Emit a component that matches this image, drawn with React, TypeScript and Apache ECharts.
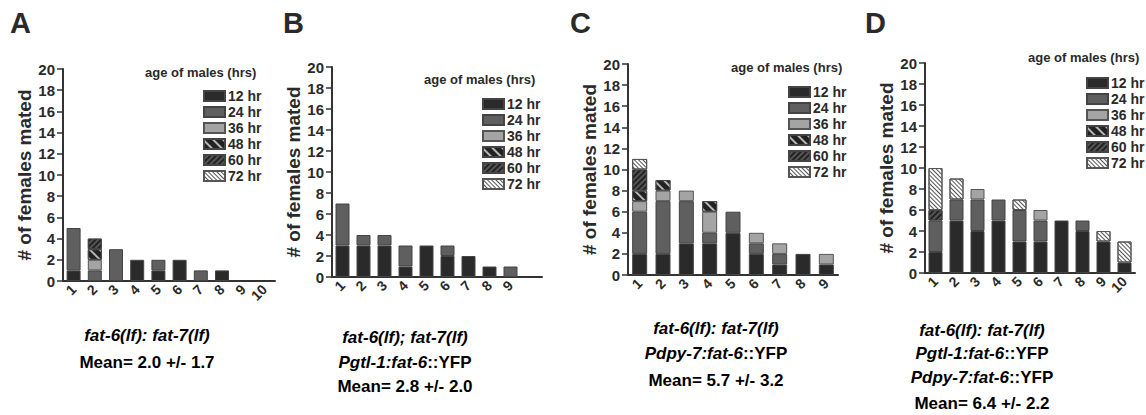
import React, { useEffect, useRef } from "react";
import * as echarts from "echarts";

const FONT = '"Liberation Sans", Arial, Helvetica, sans-serif';
const INK = "#2a2a2a";

// ---- data ----
const hourNames = ["12 hr", "24 hr", "36 hr", "48 hr", "60 hr", "72 hr"];

const catsA = ["1", "2", "3", "4", "5", "6", "7", "8", "9", "10"];
const a12 = [1, 0, 0, 2, 1, 2, 0, 1, 0, 0];
const a24 = [4, 1, 3, 0, 1, 0, 1, 0, 0, 0];
const a36 = [0, 1, 0, 0, 0, 0, 0, 0, 0, 0];
const a48 = [0, 1, 0, 0, 0, 0, 0, 0, 0, 0];
const a60 = [0, 1, 0, 0, 0, 0, 0, 0, 0, 0];
const a72 = [0, 0, 0, 0, 0, 0, 0, 0, 0, 0];

const catsB = ["1", "2", "3", "4", "5", "6", "7", "8", "9", ""];
const b12 = [3, 3, 3, 1, 3, 2, 2, 1, 0];
const b24 = [4, 1, 1, 2, 0, 1, 0, 0, 1];
const b36 = [0, 0, 0, 0, 0, 0, 0, 0, 0];
const b48 = [0, 0, 0, 0, 0, 0, 0, 0, 0];
const b60 = [0, 0, 0, 0, 0, 0, 0, 0, 0];
const b72 = [0, 0, 0, 0, 0, 0, 0, 0, 0];

const catsC = ["1", "2", "3", "4", "5", "6", "7", "8", "9"];
const c12 = [2, 2, 3, 3, 4, 2, 1, 2, 1];
const c24 = [4, 5, 4, 1, 2, 1, 1, 0, 0];
const c36 = [1, 1, 1, 2, 0, 1, 1, 0, 1];
const c48 = [1, 1, 0, 1, 0, 0, 0, 0, 0];
const c60 = [2, 0, 0, 0, 0, 0, 0, 0, 0];
const c72 = [1, 0, 0, 0, 0, 0, 0, 0, 0];

const catsD = ["1", "2", "3", "4", "5", "6", "7", "8", "9", "10"];
const d12 = [2, 5, 4, 5, 3, 3, 5, 4, 3, 1];
const d24 = [3, 2, 3, 2, 3, 2, 0, 1, 0, 0];
const d36 = [0, 0, 1, 0, 0, 1, 0, 0, 0, 0];
const d48 = [0, 0, 0, 0, 0, 0, 0, 0, 0, 0];
const d60 = [1, 0, 0, 0, 0, 0, 0, 0, 0, 0];
const d72 = [4, 2, 0, 0, 1, 0, 0, 0, 1, 2];

const yTicks = { min: 0, max: 20, interval: 2 };
const legendTitle = "age of males (hrs)";

const captionsA = ["{i|fat-6(lf): fat-7(lf)}", "{n|Mean= 2.0 +/- 1.7}"];
const captionsB = ["{i|fat-6(lf); fat-7(lf)}", "{i|Pgtl-1:fat-6}{n|::YFP}", "{n|Mean= 2.8 +/- 2.0}"];
const captionsC = ["{i|fat-6(lf): fat-7(lf)}", "{i|Pdpy-7:fat-6}{n|::YFP}", "{n|Mean= 5.7 +/- 3.2}"];
const captionsD = [
  "{i|fat-6(lf): fat-7(lf)}",
  "{i|Pgtl-1:fat-6}{n|::YFP}",
  "{i|Pdpy-7:fat-6}{n|::YFP}",
  "{n|Mean= 6.4 +/- 2.2}",
];

// ---- layout / style ----
const panels = [
  {
    letter: "A", letterX: 10, cats: catsA, values: [a12, a24, a36, a48, a60, a72],
    grid: { left: 63, top: 69, width: 212, height: 212 }, barWidth: 14,
    legTitle: { x: 145, y: 72 }, leg: { left: 198, top: 84 },
    caps: captionsA, capX: 147, capY: [335, 362],
  },
  {
    letter: "B", letterX: 283, cats: catsB, values: [b12, b24, b36, b48, b60, b72],
    grid: { left: 332, top: 67, width: 210, height: 210 }, barWidth: 14,
    legTitle: { x: 424, y: 79 }, leg: { left: 477, top: 92 },
    caps: captionsB, capX: 405, capY: [337, 362, 386],
  },
  {
    letter: "C", letterX: 570, cats: catsC, values: [c12, c24, c36, c48, c60, c72],
    grid: { left: 628, top: 64, width: 210, height: 211 }, barWidth: 15,
    legTitle: { x: 731, y: 67 }, leg: { left: 783, top: 80 },
    caps: captionsC, capX: 716, capY: [328, 353, 380],
  },
  {
    letter: "D", letterX: 865, cats: catsD, values: [d12, d24, d36, d48, d60, d72],
    grid: { left: 925, top: 63, width: 210, height: 210 }, barWidth: 14,
    legTitle: { x: 1028, y: 57 }, leg: { left: 1081, top: 71 },
    caps: captionsD, capX: 982, capY: [330, 353, 377, 403],
  },
];

const hourStyles: any[] = [
  { color: "#2a2a2a", borderColor: "#444", borderWidth: 1 },
  { color: "#5f5f5f", borderColor: "#444", borderWidth: 1 },
  { color: "#a4a4a5", borderColor: "#555", borderWidth: 1 },
  {
    color: "#222", borderColor: "#444", borderWidth: 1,
    decal: { symbol: "rect", symbolSize: 1, color: "#b5b5b5", backgroundColor: "#1e1e1e",
      dashArrayX: [1, 0], dashArrayY: [2, 5], rotation: Math.PI / 4 },
  },
  {
    color: "#555", borderColor: "#444", borderWidth: 1,
    decal: { symbol: "rect", symbolSize: 1, color: "#222", backgroundColor: "#9a9a9a",
      dashArrayX: [1, 0], dashArrayY: [1.5, 1.5], rotation: -Math.PI / 4 },
  },
  {
    color: "#fff", borderColor: "#555", borderWidth: 1,
    decal: { symbol: "rect", symbolSize: 1, color: "#555", backgroundColor: "#ffffff",
      dashArrayX: [1, 0], dashArrayY: [1, 1.5], rotation: Math.PI / 4 },
  },
];

const richStyles = {
  i: { fontFamily: FONT, fontSize: 17, fontWeight: "bold", fontStyle: "italic", color: INK },
  n: { fontFamily: FONT, fontSize: 17, fontWeight: "bold", color: INK },
};

function buildOption() {
  const grid: any[] = [];
  const xAxis: any[] = [];
  const yAxis: any[] = [];
  const series: any[] = [];
  const legend: any[] = [];
  const graphic: any[] = [];

  panels.forEach((p, pi) => {
    grid.push({ ...p.grid, containLabel: false });
    xAxis.push({
      type: "category", gridIndex: pi, data: p.cats,
      axisLine: { lineStyle: { color: "#333", width: 2 } },
      axisTick: { alignWithLabel: true, length: 5, lineStyle: { color: "#333", width: 1.5 } },
      axisLabel: { interval: 0, rotate: 45, margin: 6, color: INK, fontFamily: FONT, fontSize: 14, fontWeight: "bold" },
      splitLine: { show: false },
    });
    yAxis.push({
      type: "value", gridIndex: pi, ...yTicks,
      name: "# of females mated", nameLocation: "middle", nameGap: 25,
      nameTextStyle: { color: INK, fontFamily: FONT, fontSize: 19, fontWeight: "bold" },
      axisLine: { show: true, lineStyle: { color: "#333", width: 2 } },
      axisTick: { show: true, length: 6, lineStyle: { color: "#333", width: 1.5 } },
      axisLabel: { margin: 8, color: INK, fontFamily: FONT, fontSize: 15, fontWeight: "bold" },
      splitLine: { show: false },
    });
    p.values.forEach((vals, hi) => {
      series.push({
        type: "bar", name: hourNames[hi], stack: "s" + pi,
        xAxisIndex: pi, yAxisIndex: pi, barWidth: p.barWidth,
        data: vals.map((v) => (v === 0 ? null : v)),
        itemStyle: hourStyles[hi],
        emphasis: { disabled: true },
      });
    });
    legend.push({
      orient: "vertical", left: p.leg.left, top: p.leg.top,
      data: hourNames, icon: "rect", itemWidth: 21, itemHeight: 10, itemGap: 2,
      selectedMode: false,
      textStyle: { color: INK, fontFamily: FONT, fontSize: 14, fontWeight: "bold", lineHeight: 14, padding: [0, 0, 0, -2] },
    });
    graphic.push({
      type: "text", x: p.letterX, y: 23,
      style: { text: p.letter, fill: INK, font: `bold 29px ${FONT}`, textAlign: "left", textVerticalAlign: "middle" },
    });
    graphic.push({
      type: "text", x: p.legTitle.x, y: p.legTitle.y,
      style: { text: legendTitle, fill: INK, font: `bold 13px ${FONT}`, textAlign: "left", textVerticalAlign: "middle" },
    });
    p.caps.forEach((c, ci) => {
      graphic.push({
        type: "text", x: p.capX, y: p.capY[ci],
        style: { text: c, rich: richStyles, textAlign: "center", textVerticalAlign: "middle" },
      });
    });
  });

  return { animation: false, backgroundColor: "#fff", grid, xAxis, yAxis, series, legend, graphic };
}

export default function App() {
  const ref = useRef<HTMLDivElement>(null);
  useEffect(() => {
    if (!ref.current) return;
    const chart = echarts.init(ref.current, undefined, { renderer: "svg" });
    chart.setOption(buildOption() as any);
    return () => chart.dispose();
  }, []);
  return (
    <div
      ref={ref}
      style={{ position: "absolute", left: 0, top: 0, width: 1146, height: 415, background: "#fff" }}
    />
  );
}
